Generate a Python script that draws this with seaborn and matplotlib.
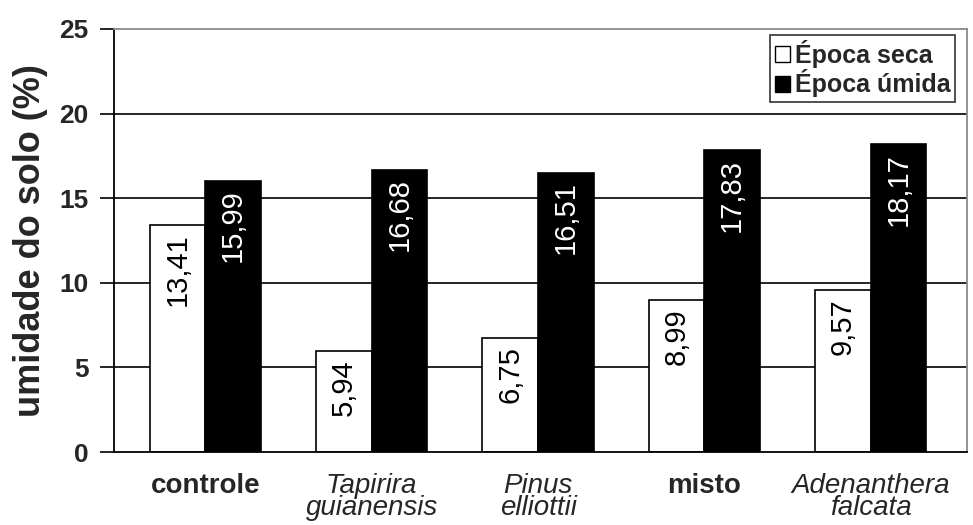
import matplotlib
matplotlib.use("Agg")
import matplotlib.pyplot as plt
from matplotlib.patches import Patch
import seaborn as sns
import pandas as pd

categories = ["controle", "Tapirira\nguianensis", "Pinus\nelliottii", "misto", "Adenanthera\nfalcata"]
italic_cats = [False, True, True, False, True]
seasons = ["Época seca", "Época úmida"]
seca = [13.41, 5.94, 6.75, 8.99, 9.57]
umida = [15.99, 16.68, 16.51, 17.83, 18.17]
yticks = [0, 5, 10, 15, 20, 25]

sns.set_theme(style="white")
plt.rcParams["font.family"] = ["Liberation Sans", "DejaVu Sans"]

df = pd.DataFrame({
    "categoria": categories * 2,
    "epoca": [seasons[0]] * len(categories) + [seasons[1]] * len(categories),
    "umidade": seca + umida,
})

fig = plt.figure(figsize=(9.73, 5.25), dpi=100)
ax = fig.add_axes([0.117, 0.139, 0.877, 0.806])

# horizontal reference lines behind the bars
for v in yticks[1:-1]:
    ax.axhline(v, color="black", lw=1.2, zorder=0)

sns.barplot(data=df, x="categoria", y="umidade", hue="epoca", order=categories,
            hue_order=seasons, palette=["white", "black"], edgecolor="black",
            linewidth=1.2, width=0.67, saturation=1, legend=False, ax=ax, zorder=2)

# value labels inside the bars
for cont, tcolor in zip(ax.containers, ["black", "white"]):
    for rect in cont:
        h = rect.get_height()
        ax.annotate(f"{h:.2f}".replace(".", ","),
                    (rect.get_x() + rect.get_width() / 2, h),
                    xytext=(0, -6), textcoords="offset points",
                    rotation=90, ha="center", va="top",
                    fontsize=21, color=tcolor, zorder=3)

ax.set_ylim(0, 25)
ax.set_xlim(-0.55, 4.58)
ax.set_yticks(yticks)
ax.set_yticklabels([str(t) for t in yticks], fontsize=19, fontweight="bold")
ax.set_xticks(range(len(categories)))
ax.set_xticklabels(categories, fontsize=20, linespacing=0.8)
for lab, it in zip(ax.get_xticklabels(), italic_cats):
    if it:
        lab.set_fontstyle("italic")
    else:
        lab.set_fontweight("bold")
ax.set_xticks([-0.55], minor=True)
ax.tick_params(axis="x", which="major", length=0, pad=15)
ax.tick_params(axis="x", which="minor", length=6, width=1.2, color="black", direction="out")
ax.tick_params(axis="y", length=10, width=1.2, color="black", direction="out", pad=8, left=True)

ax.set_xlabel("")
ax.set_ylabel("umidade do solo (%)", fontsize=26, fontweight="bold", labelpad=8)

for side in ["left", "bottom"]:
    ax.spines[side].set_color("black")
    ax.spines[side].set_linewidth(1.3)
for side in ["top", "right"]:
    ax.spines[side].set_color("#8a8a8a")
    ax.spines[side].set_linewidth(1.3)

handles = [Patch(facecolor="white", edgecolor="black", lw=1),
           Patch(facecolor="black", edgecolor="black", lw=1)]
leg = ax.legend(handles, seasons, loc="upper right", bbox_to_anchor=(0.986, 0.985),
                prop={"weight": "bold", "size": 18}, frameon=True, fancybox=False,
                handlelength=0.6, handleheight=0.6, handletextpad=0.2,
                borderpad=0.2, labelspacing=0.05, borderaxespad=0)
leg.get_frame().set_edgecolor("black")
leg.get_frame().set_linewidth(1.2)

fig.savefig("out.png", dpi=100)
